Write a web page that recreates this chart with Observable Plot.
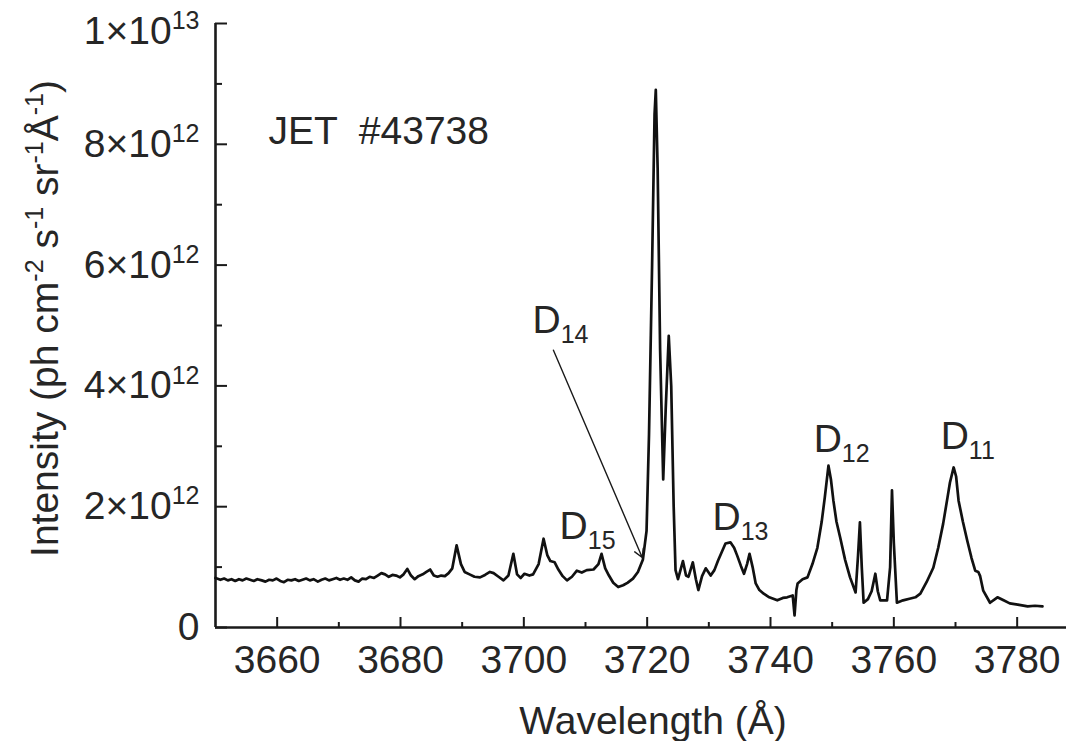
<!DOCTYPE html>
<html>
<head>
<meta charset="utf-8">
<script src="https://cdn.jsdelivr.net/npm/d3@7"></script>
<script src="https://cdn.jsdelivr.net/npm/@observablehq/plot@0.6"></script>
<style>
  html, body { margin: 0; padding: 0; background: #fff; }
</style>
</head>
<body>
<div id="chart"></div>
<script>
// ---- data (intensity in units of 1e12 ph cm^-2 s^-1 sr^-1 Å^-1) ----
const wavelength = [
  3650,3650.8,3651.4,3652.0,3652.6,3653.2,3653.8,3654.4,3655.0,3655.6,3656.2,3656.8,3657.5,3658.1,3658.7,3659.3,3659.9,
  3660.5,3661.1,3661.7,3662.3,3662.9,3663.5,3664.1,3664.7,3665.3,3665.9,3666.6,3667.2,3667.8,3668.4,3669.0,3669.6,3670.2,
  3670.8,3671.4,3672.0,3672.6,3673.2,3673.8,3674.4,3675.0,3675.7,3676.3,3676.9,3677.5,3678.1,3678.7,3679.3,3679.9,
  3680.5,3681.1,3681.7,3682.3,3682.9,3683.6,3684.2,3684.8,3685.4,3686.0,3686.6,3687.2,3687.8,3688.4,3689.1,3689.8,3690.4,
  3691.2,3692.0,3692.9,3693.7,3694.5,3695.1,3695.9,3696.7,3697.5,3698.3,3698.9,3699.5,3700.1,
  3700.9,3701.5,3702.4,3703.2,3703.8,3704.3,3705.0,3705.6,3706.3,3707.0,3707.8,3708.6,3709.4,3710.2,
  3711.3,3712.1,3712.6,3713.2,3713.8,3714.5,3715.3,3716.1,3716.8,3717.7,3718.5,3719.3,3719.9,3720.3,3720.8,
  3721.2,3721.4,3721.7,3722.1,3722.6,3723.0,3723.5,3723.9,3724.3,3724.6,3725.0,3725.8,3726.3,3726.7,3727.4,
  3727.9,3728.3,3728.9,3729.5,3730.3,3730.9,3731.5,3732.1,3732.7,3733.5,3734.1,3734.6,3735.2,3735.7,3736.2,
  3736.6,3737.1,3737.6,3738.2,3738.9,3739.8,3741.1,3742.0,3742.7,3743.6,3743.9,3744.2,3744.4,3745.2,3746.0,
  3746.8,3747.6,3748.3,3748.8,3749.4,3749.8,3750.2,3750.7,3751.3,3752.1,3752.9,3753.8,3754.2,3754.5,3754.8,
  3755.1,3755.8,3756.4,3757.0,3757.4,3757.8,3758.9,3759.4,3759.7,3760.0,3760.5,3761.5,3762.7,3763.5,3764.3,
  3765.3,3766.4,3767.2,3768.0,3768.7,3769.1,3769.7,3770.1,3770.5,3771.2,3771.9,3772.6,3773.2,3773.7,3774.0,
  3774.5,3775.6,3776.8,3777.8,3778.8,3780.1,3781.7,3782.9,3784.1
];
const intensity = [
  0.82,0.79,0.81,0.78,0.80,0.77,0.80,0.78,0.81,0.79,0.77,0.80,0.78,0.76,0.79,0.78,0.81,
  0.77,0.75,0.79,0.78,0.80,0.77,0.79,0.81,0.78,0.80,0.76,0.79,0.81,0.78,0.80,0.82,0.79,
  0.81,0.79,0.83,0.78,0.76,0.81,0.80,0.84,0.82,0.86,0.90,0.88,0.84,0.87,0.86,0.83,
  0.88,0.97,0.86,0.80,0.85,0.88,0.92,0.96,0.86,0.84,0.86,0.85,0.90,0.98,1.36,1.05,0.92,
  0.88,0.84,0.83,0.87,0.92,0.90,0.84,0.78,0.86,1.22,0.88,0.82,0.89,
  0.86,0.88,1.05,1.47,1.20,1.10,1.08,0.96,0.85,0.78,0.84,0.94,0.91,0.95,
  0.96,1.05,1.22,0.98,0.86,0.74,0.67,0.70,0.74,0.81,0.92,1.12,1.6,3.2,6.0,
  8.5,8.9,7.6,4.6,2.45,3.6,4.83,4.0,2.0,0.95,0.80,1.10,0.86,0.84,1.08,
  0.80,0.62,0.85,0.98,0.86,0.95,1.11,1.25,1.39,1.41,1.32,1.19,1.02,0.89,1.05,
  1.22,1.00,0.73,0.62,0.56,0.50,0.45,0.49,0.50,0.53,0.20,0.62,0.73,0.80,0.83,
  1.05,1.32,1.75,2.15,2.68,2.45,2.10,1.75,1.49,1.12,0.83,0.58,1.2,1.74,1.0,
  0.41,0.47,0.60,0.89,0.60,0.45,0.45,1.0,2.27,1.4,0.41,0.45,0.48,0.50,0.56,
  0.75,0.99,1.32,1.72,2.15,2.40,2.65,2.50,2.10,1.75,1.44,1.15,0.94,0.92,0.85,
  0.61,0.41,0.50,0.45,0.40,0.38,0.35,0.36,0.35
];

const xMajorTicks = [3660, 3680, 3700, 3720, 3740, 3760, 3780];
const xMinorTicks = [3670, 3690, 3710, 3730, 3750, 3770];
const yMajorTicks = [0, 2, 4, 6, 8, 10];
const yMinorTicks = [1, 3, 5, 7, 9];
const yTickLabels = ["0", "2×10^{12}", "4×10^{12}", "6×10^{12}", "8×10^{12}", "1×10^{13}"];

const lineNames = ["D_{14}", "D_{15}", "D_{13}", "D_{12}", "D_{11}"];
const lineLabelX = [3701.4, 3705.8, 3730.6, 3747.0, 3767.6];
const lineLabelY = [4.88, 1.47, 1.62, 2.90, 2.96];

const arrowFrom = [3704.8, 4.59];
const arrowTo = [3719.2, 1.16];

const shotLabel = "JET  #43738";
const shotPos = [3658.6, 8.01];
const xTitle = "Wavelength (Å)";
const yTitle = "Intensity (ph cm^{-2} s^{-1} sr^{-1}Å^{-1})";

// ---- build ----
const spectrum = wavelength.map((w, i) => ({w, v: intensity[i]}));
const labels = lineNames.map((t, i) => ({t, x: lineLabelX[i], y: lineLabelY[i]}));
const yLabelFor = d => yTickLabels[yMajorTicks.indexOf(d)];
const yTop = yMajorTicks[yMajorTicks.length - 1];

const W = 1066, H = 741;
const mL = 215, mR = 0, mT = 23, mB = 114;
const frameW = W - mL - mR, frameH = H - mT - mB;
const ink = "#1a1a1a";
const FS = 39;

const chart = Plot.plot({
  width: W, height: H,
  marginLeft: mL, marginRight: mR, marginTop: mT, marginBottom: mB,
  style: {fontFamily: "'Liberation Sans', Arial, sans-serif", fontSize: FS + "px", color: "#262626", background: "#fff", whiteSpace: "pre"},
  x: {domain: [3650, 3788]},
  y: {domain: [0, 10]},
  marks: [
    Plot.ruleY([0], {stroke: ink, strokeWidth: 2.6}),
    Plot.ruleX([3650], {stroke: ink, strokeWidth: 2.6}),
    Plot.tickX(xMajorTicks, {x: d => d, insetTop: frameH - 10, stroke: ink, strokeWidth: 2}),
    Plot.tickX(xMinorTicks, {x: d => d, insetTop: frameH - 5, stroke: ink, strokeWidth: 2}),
    Plot.tickY(yMajorTicks, {y: d => d, insetRight: frameW - 12, stroke: ink, strokeWidth: 2}),
    Plot.tickY(yMinorTicks, {y: d => d, insetRight: frameW - 7, stroke: ink, strokeWidth: 2}),
    Plot.axisX(xMajorTicks, {tickSize: 0, tickPadding: 18, fontSize: FS, label: null, tickFormat: d => String(d)}),
    Plot.axisY(yMajorTicks.filter(d => d !== yTop), {tickSize: 0, tickPadding: 16, fontSize: FS, label: null, tickFormat: yLabelFor}),
    Plot.axisY([yTop], {tickSize: 0, tickPadding: 16, fontSize: FS, label: null, tickFormat: yLabelFor, dy: 8}),
    Plot.line(spectrum, {x: "w", y: "v", stroke: "#111", strokeWidth: 2.7, strokeLinejoin: "round"}),
    Plot.arrow([{x1: arrowFrom[0], y1: arrowFrom[1], x2: arrowTo[0], y2: arrowTo[1]}],
      {x1: "x1", y1: "y1", x2: "x2", y2: "y2", stroke: ink, strokeWidth: 1.4, headLength: 10, bend: 0}),
    Plot.text(labels, {x: "x", y: "y", text: "t", textAnchor: "start", lineAnchor: "bottom", fontSize: FS, fill: "#262626"}),
    Plot.text([shotLabel], {x: () => shotPos[0], y: () => shotPos[1], text: d => d, textAnchor: "start", lineAnchor: "bottom", fontSize: FS, fill: "#262626"}),
    Plot.text([xTitle], {frameAnchor: "bottom", text: d => d, dx: 12, dy: 106, lineAnchor: "bottom", fontSize: FS, fill: "#262626"}),
    Plot.text([yTitle], {frameAnchor: "left", textAnchor: "middle", text: d => d, dx: -170, dy: -7, rotate: -90, fontSize: FS, fill: "#262626"})
  ]
});

document.getElementById("chart").appendChild(chart);

// rich text: ^{..} superscript, _{..} subscript
const svgNS = "http://www.w3.org/2000/svg";
function rich(el) {
  const s = el.textContent;
  if (!/[\^_]\{/.test(s)) return;
  const fs = parseFloat(getComputedStyle(el).fontSize) || FS;
  el.textContent = "";
  const re = /([\^_])\{([^}]*)\}|([^\^_]+)/g;
  let m, cur = 0;
  while ((m = re.exec(s))) {
    const t = document.createElementNS(svgNS, "tspan");
    let target;
    if (m[3] !== undefined) {
      t.textContent = m[3];
      target = 0;
    } else {
      t.textContent = m[2];
      t.setAttribute("font-size", (0.64 * fs).toFixed(1));
      target = m[1] === "^" ? -0.38 * fs : 0.26 * fs;
    }
    if (target !== cur) t.setAttribute("dy", (target - cur).toFixed(1));
    cur = target;
    el.appendChild(t);
  }
}
chart.querySelectorAll("text").forEach(rich);
</script>
</body>
</html>
